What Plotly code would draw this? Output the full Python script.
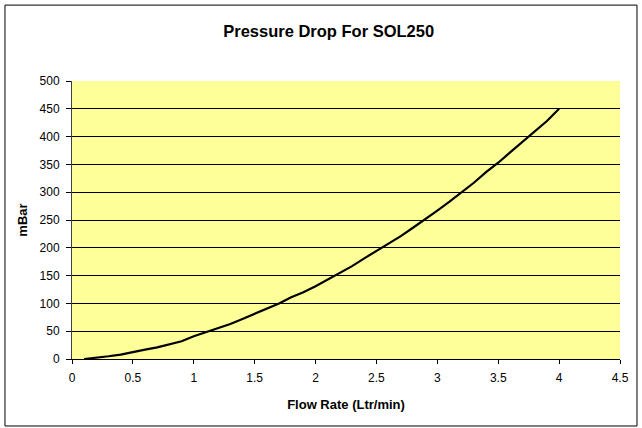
import plotly.graph_objects as go

# flow rate (Ltr/min) and pressure drop (mBar)
flow = [0.1, 0.2, 0.3, 0.4, 0.5, 0.6, 0.7, 0.8, 0.9, 1.0,
        1.1, 1.2, 1.3, 1.4, 1.5, 1.6, 1.7, 1.8, 1.9, 2.0,
        2.1, 2.2, 2.3, 2.4, 2.5, 2.6, 2.7, 2.8, 2.9, 3.0,
        3.1, 3.2, 3.3, 3.4, 3.5, 3.6, 3.7, 3.8, 3.9, 4.0]
pressure = [0, 2, 5, 8, 13, 17, 21, 27, 32, 41,
            48, 55, 63, 72, 81, 90, 100, 111, 120, 131,
            143, 155, 167, 181, 194, 207, 221, 236, 251, 267,
            283, 300, 317, 336, 353, 372, 391, 409, 428, 450]

x_ticks = [0, 0.5, 1, 1.5, 2, 2.5, 3, 3.5, 4, 4.5]
y_ticks = [0, 50, 100, 150, 200, 250, 300, 350, 400, 450, 500]

font = "Liberation Sans, Arial, sans-serif"

fig = go.Figure()
fig.add_trace(go.Scatter(x=flow, y=pressure, mode="lines",
                         line=dict(color="black", width=2.2),
                         showlegend=False, hoverinfo="skip"))

fig.update_layout(
    width=642, height=428,
    margin=dict(l=72, r=22, t=81, b=69),
    paper_bgcolor="white",
    plot_bgcolor="#FFFF99",
    font=dict(family=font, size=12, color="black"),
    title=dict(text="<b>Pressure Drop For SOL250</b>", x=0.512, xanchor="center",
               y=1 - 31 / 428, yanchor="middle", yref="container",
               font=dict(family=font, size=16.5, color="black")),
    # outer chart frame
    shapes=[dict(type="rect", xref="paper", yref="paper",
                 x0=-0.1223, x1=1.031, y0=-0.241, y1=1.273,
                 line=dict(color="black", width=1), layer="below")],
)

fig.update_xaxes(
    range=[0, 4.5], tickvals=x_ticks, ticktext=[str(v) for v in x_ticks],
    showgrid=False, zeroline=False,
    showline=True, linecolor="black", linewidth=1,
    ticks="outside", ticklen=4, tickcolor="black",
    tickfont=dict(size=12), ticklabelstandoff=4,
    title=dict(text="<b>Flow Rate (Ltr/min)</b>", font=dict(size=13), standoff=15),
)
fig.update_yaxes(
    range=[0, 500], tickvals=y_ticks,
    showgrid=True, gridcolor="black", gridwidth=1,
    zeroline=False,
    showline=True, linecolor="#404040", linewidth=1,
    ticks="outside", ticklen=5, tickcolor="black",
    tickfont=dict(size=12), ticklabelstandoff=4,
    title=dict(text="<b>mBar</b>", font=dict(size=13), standoff=9),
)

fig.write_html("out.html", config={"displayModeBar": False},
               post_script="document.body.style.margin='0';")
